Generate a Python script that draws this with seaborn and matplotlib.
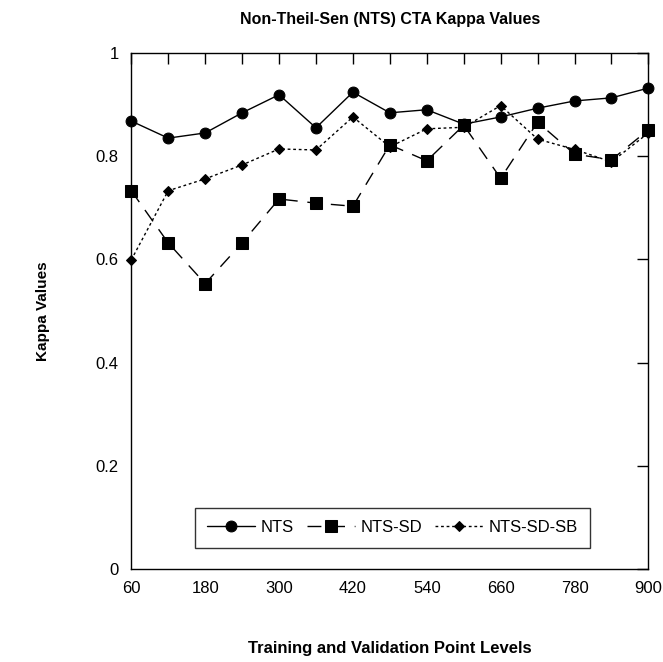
import matplotlib
matplotlib.use("Agg")
import matplotlib.pyplot as plt
import seaborn as sns
import pandas as pd

levels = [60, 120, 180, 240, 300, 360, 420, 480, 540, 600, 660, 720, 780, 840, 900]
nts = [0.868, 0.835, 0.845, 0.884, 0.919, 0.855, 0.924, 0.884, 0.890, 0.862, 0.876, 0.893, 0.907, 0.913, 0.932]
nts_sd = [0.733, 0.632, 0.553, 0.632, 0.717, 0.709, 0.703, 0.822, 0.791, 0.860, 0.757, 0.866, 0.804, 0.793, 0.851]
nts_sd_sb = [0.599, 0.733, 0.756, 0.783, 0.814, 0.812, 0.876, 0.818, 0.853, 0.856, 0.898, 0.833, 0.813, 0.789, 0.845]
series_names = ["NTS", "NTS-SD", "NTS-SD-SB"]
x_ticks = [60, 180, 300, 420, 540, 660, 780, 900]
y_ticks = [0, 0.2, 0.4, 0.6, 0.8, 1]
y_tick_labels = ["0", "0.2", "0.4", "0.6", "0.8", "1"]

sns.set_theme(style="white")
plt.rcParams["font.family"] = ["Liberation Sans", "DejaVu Sans"]
plt.rcParams["text.color"] = "black"
plt.rcParams["axes.labelcolor"] = "black"
plt.rcParams["xtick.color"] = "black"
plt.rcParams["ytick.color"] = "black"

df = pd.DataFrame({
    "level": levels * 3,
    "kappa": nts + nts_sd + nts_sd_sb,
    "series": sum([[n] * len(levels) for n in series_names], []),
})

fig = plt.figure(figsize=(6.63, 6.62), dpi=100)
ax = fig.add_axes([0.198, 0.1405, 0.78, 0.7795])

styles = {
    "NTS": dict(marker="o", markersize=7.8, dashes=None),
    "NTS-SD": dict(marker="s", markersize=8.0, dashes=(10, 7)),
    "NTS-SD-SB": dict(marker="D", markersize=5.0, dashes=(2, 2)),
}
for name in series_names:
    st = styles[name]
    sub = df[df["series"] == name]
    sns.lineplot(data=sub, x="level", y="kappa", color="black", marker=st["marker"],
                 markersize=st["markersize"], linewidth=1.0, label=name, ax=ax,
                 markeredgecolor="black", clip_on=False)
    line = ax.lines[-1]
    if st["dashes"] is not None:
        line.set_dashes(st["dashes"])

ax.set_xlim(60, 900)
ax.set_ylim(0, 1)
ax.set_xticks(levels, minor=True)
ax.set_xticks(x_ticks)
ax.set_yticks(y_ticks)
ax.set_yticklabels(y_tick_labels)
ax.tick_params(axis="both", which="both", direction="in", top=True, right=True,
               length=8, width=1, color="black", labelcolor="black", labelsize=12, pad=9)
for s in ax.spines.values():
    s.set_color("black")
    s.set_linewidth(1)

ax.set_title("Non-Theil-Sen (NTS) CTA Kappa Values", fontsize=11.5, fontweight="bold",
             pad=21, color="black")
ax.set_xlabel("Training and Validation Point Levels", fontsize=12, fontweight="bold",
              labelpad=32, color="black")
ax.set_ylabel("Kappa Values", fontsize=11, fontweight="bold", labelpad=33, color="black")

leg = ax.legend(loc="lower center", bbox_to_anchor=(0.505, 0.025), ncol=3, frameon=True,
                fancybox=False, edgecolor="black", fontsize=12, handlelength=2.9,
                columnspacing=0.8, handletextpad=0.3, borderpad=0.75, labelcolor="black")
leg.get_frame().set_linewidth(1)

fig.savefig("out.png", dpi=100)
